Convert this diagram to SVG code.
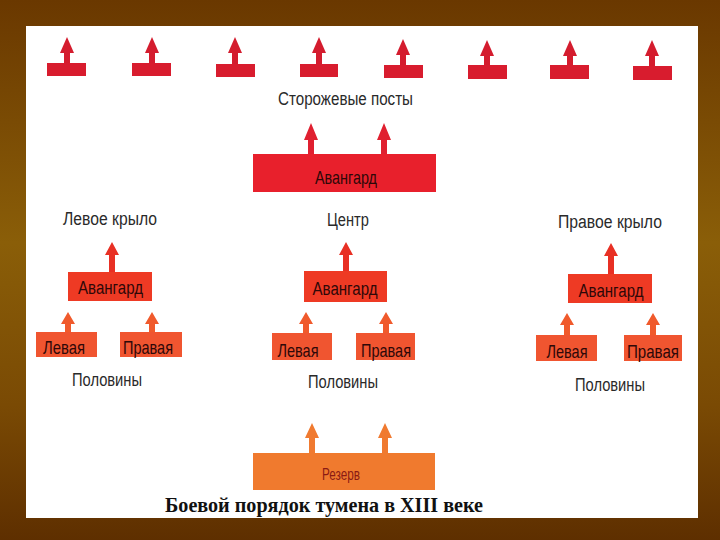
<svg xmlns="http://www.w3.org/2000/svg" width="720" height="540" viewBox="0 0 720 540">
<defs>
<linearGradient id="bg" x1="0" y1="0" x2="0" y2="1">
<stop offset="0" stop-color="#6a3800"/>
<stop offset="0.45" stop-color="#8a5e08"/>
<stop offset="0.75" stop-color="#7a4a04"/>
<stop offset="1" stop-color="#5e2f00"/>
</linearGradient>
<style>
.t{font-family:"Liberation Sans","DejaVu Sans",sans-serif;fill:#2a2a2a;text-anchor:middle}
.lbl{font-size:18px}
.in{font-size:19px;fill:#2e0808}
.post{fill:#d81c2e}
.av0{fill:#e8202c}
.av{fill:#ee3a24}
.half{fill:#f05530}
.res{fill:#f07a2e}
.a-post{fill:#d41c2e}
.a-av0{fill:#e02030}
.a-av{fill:#e83024}
.a-half{fill:#f05a2c}
.a-res{fill:#f07a30}
.title{font-family:"Liberation Serif","Times New Roman",serif;font-weight:bold;font-size:21px;fill:#111;text-anchor:middle}
</style>
</defs>
<rect width="720" height="540" fill="url(#bg)"/>
<rect x="26" y="26" width="672" height="492" fill="#ffffff"/>

<g id="posts">
<rect class="post" x="47" y="63" width="39" height="13"/>
<rect class="post" x="132" y="63" width="39" height="13"/>
<rect class="post" x="216" y="64" width="39" height="13"/>
<rect class="post" x="300" y="64" width="38" height="13"/>
<rect class="post" x="384" y="65" width="39" height="13"/>
<rect class="post" x="468" y="65" width="39" height="14"/>
<rect class="post" x="550" y="65" width="39" height="14"/>
<rect class="post" x="633" y="66" width="39" height="14"/>
<text class="t lbl" x="345.5" y="105" textLength="135" lengthAdjust="spacingAndGlyphs">Сторожевые  посты</text>
</g>

<g id="center-avangard">
<rect class="av0" x="253" y="154" width="183" height="38"/>
<text class="t in" x="346" y="184" textLength="62" lengthAdjust="spacingAndGlyphs">Авангард</text>
</g>

<g id="center">
<text class="t lbl" x="348" y="226" textLength="42" lengthAdjust="spacingAndGlyphs">Центр</text>
<rect class="av" x="304" y="271" width="83" height="31"/>
<text class="t in" x="345" y="295" textLength="65" lengthAdjust="spacingAndGlyphs">Авангард</text>
</g>
<g id="center-left">
<rect class="half" x="272" y="333" width="60" height="27"/>
<text class="t in" x="298" y="357" textLength="41" lengthAdjust="spacingAndGlyphs">Левая</text>
</g>
<g id="center-right">
<rect class="half" x="356" y="333" width="59" height="27"/>
<text class="t in" x="386" y="357" textLength="50" lengthAdjust="spacingAndGlyphs">Правая</text>
</g>
<text class="t lbl" x="343" y="388" textLength="70" lengthAdjust="spacingAndGlyphs">Половины</text>

<g id="left-wing">
<text class="t lbl" x="110" y="225" textLength="94" lengthAdjust="spacingAndGlyphs">Левое крыло</text>
<rect class="av" x="68" y="272" width="84" height="29"/>
<text class="t in" x="110.5" y="294" textLength="65" lengthAdjust="spacingAndGlyphs">Авангард</text>
</g>
<g id="left-left">
<rect class="half" x="36" y="332" width="61" height="25"/>
<text class="t in" x="64" y="354" textLength="42" lengthAdjust="spacingAndGlyphs">Левая</text>
</g>
<g id="left-right">
<rect class="half" x="120" y="332" width="62" height="25"/>
<text class="t in" x="148" y="354" textLength="50" lengthAdjust="spacingAndGlyphs">Правая</text>
</g>
<text class="t lbl" x="107" y="386" textLength="70" lengthAdjust="spacingAndGlyphs">Половины</text>

<g id="right-wing">
<text class="t lbl" x="610" y="228" textLength="104" lengthAdjust="spacingAndGlyphs">Правое крыло</text>
<rect class="av" x="568" y="274" width="84" height="29"/>
<text class="t in" x="611" y="297" textLength="65" lengthAdjust="spacingAndGlyphs">Авангард</text>
</g>
<g id="right-left">
<rect class="half" x="536" y="335" width="61" height="26"/>
<text class="t in" x="567" y="358" textLength="41" lengthAdjust="spacingAndGlyphs">Левая</text>
</g>
<g id="right-right">
<rect class="half" x="624" y="335" width="58" height="26"/>
<text class="t in" x="653" y="358" textLength="52" lengthAdjust="spacingAndGlyphs">Правая</text>
</g>
<text class="t lbl" x="610" y="391" textLength="70" lengthAdjust="spacingAndGlyphs">Половины</text>

<g id="reserve">
<rect class="res" x="253" y="453" width="182" height="37"/>
<text class="t" x="341" y="480" textLength="38" lengthAdjust="spacingAndGlyphs" style="fill:#8a1a14;font-size:17px">Резерв</text>
</g>

<g id="connectors">
<path class="a-post" d="M67,37 L74,53 L70,53 L70,63 L64,63 L64,53 L60,53 Z"/>
<path class="a-post" d="M152,37 L159,53 L155,53 L155,63 L149,63 L149,53 L145,53 Z"/>
<path class="a-post" d="M235,37 L242,53 L238,53 L238,64 L232,64 L232,53 L228,53 Z"/>
<path class="a-post" d="M319,37 L326,53 L322,53 L322,64 L316,64 L316,53 L312,53 Z"/>
<path class="a-post" d="M403,39 L410,55 L406,55 L406,65 L400,65 L400,55 L396,55 Z"/>
<path class="a-post" d="M487,40 L494,56 L490,56 L490,65 L484,65 L484,56 L480,56 Z"/>
<path class="a-post" d="M570,40 L577,56 L573,56 L573,65 L567,65 L567,56 L563,56 Z"/>
<path class="a-post" d="M652,40 L659,56 L655,56 L655,66 L649,66 L649,56 L645,56 Z"/>
<path class="a-av0" d="M311,123 L318,140 L314,140 L314,154 L308,154 L308,140 L304,140 Z"/>
<path class="a-av0" d="M384,123 L391,140 L387,140 L387,154 L381,154 L381,140 L377,140 Z"/>
<path class="a-av" d="M112,242 L119,255 L115,255 L115,272 L109,272 L109,255 L105,255 Z"/>
<path class="a-av" d="M346,242 L353,255 L349,255 L349,271 L343,271 L343,255 L339,255 Z"/>
<path class="a-av" d="M611,243 L618,256 L614,256 L614,274 L608,274 L608,256 L604,256 Z"/>
<path class="a-half" d="M68,312 L75,324 L71,324 L71,332 L65,332 L65,324 L61,324 Z"/>
<path class="a-half" d="M152,312 L159,324 L155,324 L155,332 L149,332 L149,324 L145,324 Z"/>
<path class="a-half" d="M306,312 L313,324 L309,324 L309,333 L303,333 L303,324 L299,324 Z"/>
<path class="a-half" d="M386,312 L393,324 L389,324 L389,333 L383,333 L383,324 L379,324 Z"/>
<path class="a-half" d="M567,313 L574,325 L570,325 L570,335 L564,335 L564,325 L560,325 Z"/>
<path class="a-half" d="M653,313 L660,325 L656,325 L656,335 L650,335 L650,325 L646,325 Z"/>
<path class="a-res" d="M312,423 L319,438 L315,438 L315,453 L309,453 L309,438 L305,438 Z"/>
<path class="a-res" d="M385,423 L392,438 L388,438 L388,453 L382,453 L382,438 L378,438 Z"/>
</g>

<text class="title" x="324" y="512" textLength="318" lengthAdjust="spacingAndGlyphs">Боевой порядок тумена в XIII веке</text>
</svg>
